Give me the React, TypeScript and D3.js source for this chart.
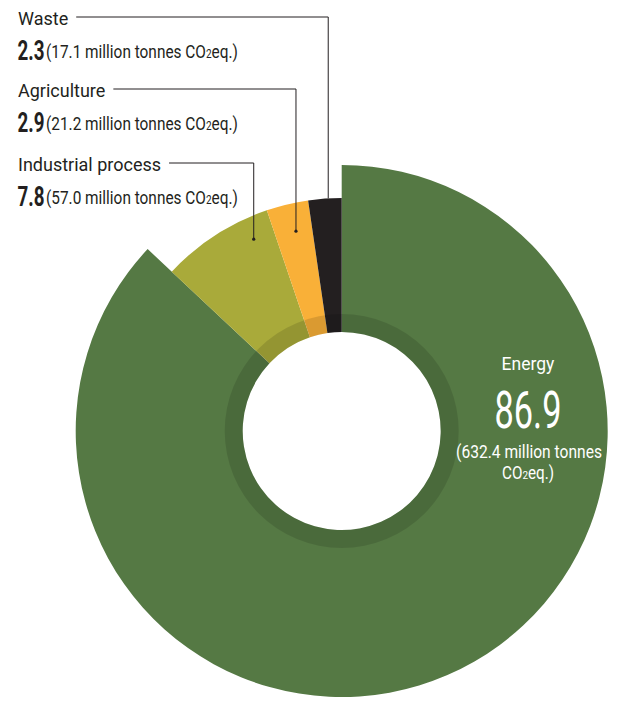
import React, { useRef, useEffect } from "react";
import * as d3 from "d3";

const sectors = ["Energy", "Industrial process", "Agriculture", "Waste"];
const shares = [86.9, 7.8, 2.9, 2.3];
const tonnes = ["632.4", "57.0", "21.2", "17.1"];
const colors = ["#557944", "#a9aa3a", "#f9b038", "#231f20"];

const FONT = "Roboto, 'Noto Sans', sans-serif";

const App = () => {
  const svgRef = useRef<SVGSVGElement>(null);

  useEffect(() => {
    if (!svgRef.current) return;
    const svg = d3.select(svgRef.current);
    svg.selectAll("*").remove();

    const width = 619;
    const height = 702;
    const cx = 341.7;
    const cy = 431;
    const outerBig = 266;
    const outerSmall = 233;
    const inner = 99;
    const ringOuter = 117;

    svg
      .attr("viewBox", [0, 0, width, height])
      .attr("width", width)
      .attr("height", height)
      .style("font-family", FONT);

    // condensed look: squeeze a text horizontally to a given width
    const condensed = (
      x: number,
      y: number,
      w: number,
      anchor: "start" | "middle",
      size: number,
      fill: string,
      build: (t: d3.Selection<SVGTextElement, unknown, null, undefined>) => void,
      weight = "normal"
    ) => {
      const wrap = svg.append("g");
      const t = wrap
        .append("text")
        .attr("font-size", size)
        .attr("font-weight", weight)
        .attr("fill", fill)
        .attr("text-anchor", anchor);
      build(t as any);
      const natural = (t.node() as SVGTextElement).getComputedTextLength();
      const sx = w / natural;
      wrap.attr("transform", `translate(${x},${y}) scale(${sx},1)`);
    };

    const pie = d3
      .pie<number>()
      .sort(null)
      .value((d) => d)
      .startAngle(0)
      .endAngle(2 * Math.PI);
    const arcs = pie(shares);

    const g = svg.append("g").attr("transform", `translate(${cx},${cy})`);
    const arc = d3.arc<d3.PieArcDatum<number>>().innerRadius(inner);

    g.selectAll("path.slice")
      .data(arcs)
      .join("path")
      .attr("class", "slice")
      .attr("fill", (_, i) => colors[i])
      .attr("d", (d, i) => arc.outerRadius(i === 0 ? outerBig : outerSmall)(d));

    // darker band around the hole
    g.append("path")
      .attr("fill", "#000")
      .attr("fill-opacity", 0.12)
      .attr(
        "d",
        d3.arc()({ innerRadius: inner, outerRadius: ringOuter, startAngle: 0, endAngle: 2 * Math.PI }) as string
      );

    // labels on the left, leader lines drop into the slices
    const rows = [
      { idx: 3, y: 25, frac: 0.6, r: outerSmall, dot: false },
      { idx: 2, y: 97, frac: 0.56, r: 205, dot: true },
      { idx: 1, y: 171, frac: 0.79, r: 211, dot: true },
    ];
    rows.forEach(({ idx, y, frac, r, dot }) => {
      const a = arcs[idx];
      const ang = a.startAngle + frac * (a.endAngle - a.startAngle);
      const title = svg
        .append("text")
        .attr("x", 18)
        .attr("y", y)
        .attr("font-size", 18)
        .attr("fill", "#231f20")
        .text(sectors[idx]);
      const tw = (title.node() as SVGTextElement).getComputedTextLength();

      const xLine = cx + Math.sin(ang) * r;
      const yEnd = cy - Math.cos(ang) * r;
      svg
        .append("path")
        .attr("fill", "none")
        .attr("stroke", "#231f20")
        .attr("stroke-width", 1)
        .attr("d", `M${18 + tw + 8},${y - 8}H${xLine}V${yEnd}`);
      if (dot) {
        svg
          .append("circle")
          .attr("cx", xLine)
          .attr("cy", yEnd)
          .attr("r", 1.6)
          .attr("fill", "#231f20");
      }

      condensed(17.5, y + 34.5, 27, "start", 28, "#231f20", (t) => t.text(shares[idx].toFixed(1)), "bold");
      condensed(46, y + 33, 192, "start", 18.5, "#231f20", (t) => {
        t.append("tspan").text(`(${tonnes[idx]} million tonnes CO`);
        t.append("tspan").attr("font-size", 12).text("2");
        t.append("tspan").text("eq.)");
      });
    });

    // energy label inside the big slice
    const ex = 528;
    svg
      .append("text")
      .attr("x", ex)
      .attr("y", 370)
      .attr("text-anchor", "middle")
      .attr("font-size", 17.5)
      .attr("fill", "#fff")
      .text(sectors[0]);
    condensed(ex, 428, 67, "middle", 51, "#fff", (t) => t.text(shares[0].toFixed(1)));
    condensed(ex + 1, 457.5, 146, "middle", 17.5, "#fff", (t) => t.text(`(${tonnes[0]} million tonnes`));
    condensed(ex, 478.5, 52, "middle", 17.5, "#fff", (t) => {
      t.append("tspan").text("CO");
      t.append("tspan").attr("font-size", 11.5).text("2");
      t.append("tspan").text("eq.)");
    });
  }, []);

  return (
    <svg
      ref={svgRef}
      style={{ position: "absolute", left: 0, top: 0, background: "#fff" }}
    ></svg>
  );
};

export default App;
